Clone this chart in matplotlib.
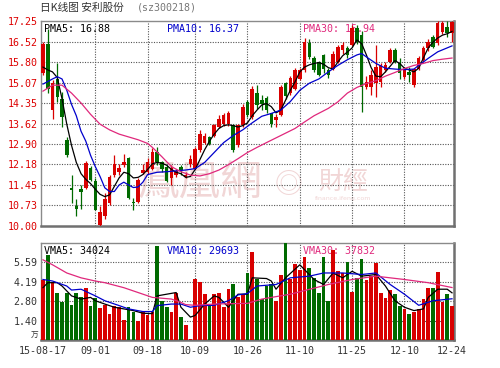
import numpy as np
import pandas as pd
import matplotlib
matplotlib.use("Agg")
import matplotlib.pyplot as plt

RED, GREEN = "#d80000", "#006a00"
C5, C10, C30 = "#000000", "#0000cc", "#e0287c"
MONO = "DejaVu Sans Mono"
CJK = ["Noto Sans CJK SC", "DejaVu Sans"]
CJK_TC = ["Noto Sans CJK TC", "DejaVu Sans"]

# trading days 2015-08-17 .. 2015-12-24 (exchange holidays removed)
holidays = ["2015-09-03", "2015-09-04", "2015-10-01", "2015-10-02",
            "2015-10-05", "2015-10-06", "2015-10-07"]
days = pd.bdate_range("2015-08-17", "2015-12-24")
days = days[~days.isin(pd.to_datetime(holidays))]
tick_days = ["2015-08-17", "2015-09-01", "2015-09-18", "2015-10-09", "2015-10-26",
             "2015-11-10", "2015-11-25", "2015-12-10", "2015-12-24"]
tick_labels = ["15-08-17", "09-01", "09-18", "10-09", "10-26",
               "11-10", "11-25", "12-10", "12-24"]

opens = [15.40, 16.45, 14.10, 15.20, 14.50, 13.05, 11.36, 10.70, 11.30, 11.34,
         12.05, 11.60, 10.02, 10.35, 10.80, 11.80, 11.92, 12.15, 12.41, 10.85,
         10.85, 11.88, 11.90, 12.00, 12.60, 12.25, 12.10, 11.70, 11.82, 12.10,
         11.75, 12.18, 12.03, 12.68, 12.95, 13.15, 13.20, 13.51, 13.62, 13.60,
         13.57, 12.86, 13.57, 14.40, 13.86, 14.69, 14.45, 14.51, 13.98, 13.75,
         13.92, 15.04, 14.70, 14.86, 15.20, 15.51, 16.46, 15.93, 15.80, 16.04,
         15.51, 15.57, 15.81, 16.22, 16.28, 16.40, 16.99, 16.75, 14.92, 14.92,
         15.04, 15.10, 15.51, 15.81, 16.22, 15.75, 15.27, 15.45, 14.98, 15.57,
         15.87, 16.28, 16.69, 16.46, 16.87, 17.04, 16.81]
highs = [16.50, 16.95, 15.15, 15.75, 14.75, 13.15, 11.80, 10.95, 11.45, 12.30,
         12.12, 11.70, 10.70, 11.15, 11.80, 12.50, 12.20, 12.55, 12.45, 10.99,
         11.70, 12.20, 12.40, 12.75, 12.80, 12.30, 12.15, 12.15, 12.00, 12.15,
         11.90, 12.50, 12.80, 13.39, 13.30, 13.20, 13.62, 13.92, 13.98, 14.05,
         13.60, 13.60, 14.33, 14.45, 14.95, 14.98, 14.63, 14.60, 14.00, 13.95,
         15.00, 15.10, 15.30, 15.60, 15.60, 16.64, 16.60, 16.00, 15.85, 16.10,
         15.60, 16.20, 16.40, 16.50, 16.35, 17.10, 17.10, 16.90, 15.30, 15.51,
         16.40, 15.75, 15.80, 16.30, 16.30, 15.93, 15.60, 15.63, 15.60, 16.00,
         16.35, 16.60, 16.75, 17.25, 17.25, 17.25, 17.25]
lows = [15.35, 14.70, 13.80, 14.40, 13.50, 12.45, 10.80, 10.35, 10.60, 11.30,
        11.60, 10.55, 10.00, 10.25, 10.75, 11.75, 11.80, 12.10, 10.95, 10.55,
        10.80, 11.85, 11.85, 11.97, 12.15, 11.90, 11.55, 11.44, 11.75, 11.80,
        11.70, 12.10, 12.00, 12.60, 12.90, 12.85, 13.15, 13.45, 13.55, 13.55,
        12.60, 12.80, 13.50, 13.85, 13.80, 14.15, 14.10, 14.00, 13.50, 13.50,
        13.90, 14.50, 14.65, 14.80, 15.15, 15.45, 15.90, 15.45, 15.30, 15.40,
        15.25, 15.50, 15.75, 16.10, 15.95, 16.35, 16.45, 14.04, 14.85, 14.63,
        14.57, 14.90, 15.45, 15.75, 15.75, 15.20, 15.20, 15.10, 14.90, 15.50,
        15.80, 16.20, 16.30, 16.40, 16.80, 16.69, 16.50]
closes = [16.45, 14.85, 15.05, 14.55, 13.86, 12.50, 11.28, 10.60, 11.20, 12.23,
          11.63, 10.57, 10.50, 10.95, 11.74, 12.20, 12.05, 12.25, 11.00, 10.80,
          11.63, 11.99, 12.25, 12.62, 12.27, 12.00, 11.60, 12.05, 11.95, 11.98,
          11.82, 12.38, 12.74, 13.27, 13.20, 12.90, 13.57, 13.80, 13.92, 14.00,
          12.68, 13.57, 14.21, 13.92, 14.86, 14.27, 14.33, 14.10, 13.62, 13.86,
          14.92, 14.60, 15.22, 15.51, 15.51, 16.52, 15.99, 15.51, 15.34, 15.57,
          15.34, 16.10, 16.34, 16.40, 16.04, 16.99, 16.52, 14.92, 15.10, 15.34,
          15.63, 15.69, 15.69, 16.22, 15.81, 15.40, 15.51, 15.34, 15.57, 15.93,
          16.28, 16.52, 16.34, 17.17, 17.17, 16.81, 17.22]
# volume in 10k lots
volumes = [4.30, 6.10, 4.15, 3.40, 2.76, 3.40, 2.52, 3.40, 3.12, 3.72,
           2.45, 3.00, 2.28, 2.52, 1.89, 2.43, 2.36, 1.42, 2.41, 2.00,
           1.37, 2.00, 1.77, 2.00, 6.75, 2.78, 2.41, 2.00, 3.37, 1.65,
           1.06, 0.07, 4.36, 4.20, 3.30, 2.48, 3.30, 3.42, 2.36, 3.70,
           4.06, 3.07, 3.30, 4.85, 6.37, 4.43, 2.95, 3.89, 4.00, 2.78,
           4.67, 6.96, 4.36, 5.47, 5.07, 6.01, 5.19, 4.48, 3.42, 6.01,
           2.83, 6.49, 4.95, 4.83, 5.61, 3.49, 4.48, 5.85, 4.29, 4.60,
           5.54, 3.42, 3.02, 3.58, 3.30, 2.48, 2.24, 1.89, 2.00, 2.24,
           2.95, 3.77, 3.73, 4.88, 2.71, 3.35, 2.48]

# moving-average lines (bar index, value)
pma5 = [15.62, 15.52, 15.45, 15.25, 14.50, 13.60, 12.85, 12.25, 11.85, 11.65,
        11.50, 11.30, 11.12, 11.04, 11.10, 11.40, 11.70, 11.90, 11.85, 11.70,
        11.72, 11.82, 12.00, 12.20, 12.25, 12.22, 12.15, 12.00, 11.90, 11.85,
        11.72, 11.75, 12.00, 12.35, 12.70, 13.00, 13.25, 13.45, 13.55, 13.58,
        13.55, 13.50, 13.55, 13.65, 13.90, 14.10, 14.28, 14.33, 14.22, 14.00,
        14.10, 14.45, 14.80, 15.10, 15.45, 15.62, 15.70, 15.75, 15.78, 15.72,
        15.60, 15.55, 15.80, 16.02, 16.15, 16.30, 16.58, 16.45, 16.05, 15.60,
        15.30, 15.28, 15.45, 15.65, 15.85, 15.75, 15.58, 15.52, 15.45, 15.58,
        15.95, 16.30, 16.50, 16.65, 16.75, 16.80, 16.88]
pma10_x = [0, 2, 3, 4, 5, 6, 7, 8, 9, 10, 11, 12, 13, 14, 15, 16, 17, 18, 19, 20,
           21, 22, 24, 26, 28, 30, 32, 34, 36, 38, 40, 42, 44, 46, 48, 50, 52, 54,
           56, 58, 60, 62, 64, 66, 67, 68, 70, 72, 74, 76, 78, 79, 81, 83, 86]
pma10 = [15.02, 15.20, 15.28, 15.20, 14.80, 14.30, 13.90, 13.35, 13.00, 12.50,
         12.10, 11.75, 11.35, 11.22, 11.22, 11.45, 11.55, 11.45, 11.36, 11.38,
         11.55, 11.82, 11.90, 11.92, 11.95, 11.98, 12.03, 12.25, 12.60, 12.95,
         13.20, 13.40, 13.65, 13.88, 13.98, 14.10, 14.40, 14.80, 15.05, 15.20,
         15.45, 15.68, 15.88, 16.05, 16.10, 15.98, 15.75, 15.58, 15.55, 15.53,
         15.55, 15.68, 15.93, 16.16, 16.37]
pma30_x = [0, 2, 4, 6, 8, 10, 12, 14, 16, 18, 20, 22, 23, 25, 27, 29, 31, 33, 35,
           37, 39, 41, 43, 45, 47, 50, 53, 55, 57, 60, 62, 64, 66, 68, 70, 72, 74,
           76, 78, 80, 82, 84, 86]
pma30 = [14.77, 14.98, 14.98, 14.70, 14.35, 13.95, 13.60, 13.40, 13.25, 13.15,
         13.05, 12.92, 12.78, 12.45, 12.10, 11.92, 11.80, 11.77, 11.85, 11.98,
         12.17, 12.38, 12.60, 12.78, 12.95, 13.20, 13.45, 13.68, 13.90, 14.16,
         14.39, 14.70, 14.90, 15.04, 15.14, 15.30, 15.43, 15.57, 15.68, 15.75,
         15.85, 15.90, 15.94]

vma5_x = [0, 1, 3, 4, 6, 8, 10, 11, 13, 15, 17, 19, 21, 23, 24, 26, 28, 29, 31, 32,
          34, 36, 37, 39, 41, 43, 44, 47, 48, 49, 51, 54, 57, 59, 61, 63, 65, 67,
          70, 72, 74, 76, 78, 80, 81, 83, 85, 86]
vma5 = [3.77, 4.13, 4.13, 3.89, 3.18, 2.95, 3.07, 2.83, 2.59, 2.36,
        2.24, 2.12, 1.93, 1.90, 3.18, 3.30, 3.42, 2.36, 1.65, 1.77,
        2.59, 3.18, 3.07, 2.36, 3.30, 3.30, 4.48, 4.43, 4.25, 3.66,
        4.48, 5.42, 4.36, 4.00, 4.83, 4.48, 4.95, 4.60, 4.72, 3.89,
        2.83, 2.36, 2.12, 2.24, 3.07, 3.66, 3.66, 3.40]
vma10_x = [0, 2, 5, 6, 8, 11, 13, 16, 18, 21, 23, 24, 27, 29, 31, 33, 36, 39, 41,
           43, 45, 49, 52, 56, 59, 63, 67, 70, 73, 76, 79, 82, 86]
vma10 = [4.36, 4.25, 3.89, 3.60, 3.66, 3.18, 2.83, 2.48, 2.24, 2.05, 2.05, 2.48,
         2.59, 2.59, 2.36, 2.48, 2.50, 2.83, 3.25, 3.35, 3.89, 4.00, 4.48, 4.60,
         4.83, 4.83, 4.72, 4.83, 4.00, 3.30, 2.50, 2.83, 2.97]
vma30_x = [0, 2, 5, 8, 11, 13, 17, 20, 23, 27, 29, 30, 32, 36, 40, 43, 46, 52, 60,
           65, 70, 76, 81, 86]
vma30 = [5.78, 5.42, 4.83, 4.48, 4.25, 4.13, 3.77, 3.42, 3.07, 2.95, 2.71, 2.55,
         2.50, 2.59, 2.62, 2.64, 2.95, 3.30, 4.00, 4.36, 4.60, 4.36, 4.13, 3.78]
vma_last = [34024, 29693, 37832]

price_ticks = [10.00, 10.73, 11.45, 12.18, 12.90, 13.62, 14.35, 15.07, 15.80, 16.52, 17.25]
vol_ticks = [1.40, 2.80, 4.19, 5.59]
vol_top = 6.99

o, h, l, c = map(np.array, (opens, highs, lows, closes))
x = np.arange(len(c))
tick_idx = [days.get_loc(pd.Timestamp(d)) for d in tick_days]
cols = np.where(c >= o, RED, GREEN)

fig = plt.figure(figsize=(5, 3.68), dpi=100)
fig.patch.set_facecolor("white")
ax = fig.add_axes([41/500, 1-226/368, 413/500, 205/368])
axv = fig.add_axes([41/500, 1-340/368, 413/500, 97/368])
GRID = dict(color="#555555", lw=0.8, ls=(0, (1, 1.3)), zorder=1)

for a in (ax, axv):
    a.set_xlim(-0.42, len(c) - 0.58)
    for t in tick_idx[1:-1]:
        a.axvline(t, **GRID)
    for s in a.spines.values():
        s.set_color("#8a8a8a"); s.set_linewidth(1.0)
    a.spines["right"].set_linewidth(1.8); a.spines["bottom"].set_linewidth(1.8)
    a.spines["right"].set_color("#707070"); a.spines["bottom"].set_color("#707070")
    a.tick_params(length=0)

# watermark
WM = "#f1d6d6"
ax.text(0.385, 0.205, "鳳凰網", transform=ax.transAxes, ha="center", va="center",
        fontsize=30, color=WM, family=CJK_TC, zorder=0)
ax.text(0.60, 0.20, "◎", transform=ax.transAxes, ha="center", va="center",
        fontsize=20, color=WM, family=CJK_TC, zorder=0)
ax.text(0.731, 0.215, "財經", transform=ax.transAxes, ha="center", va="center",
        fontsize=18, color=WM, family=CJK_TC, zorder=0)
ax.text(0.731, 0.132, "finance.ifeng.com", transform=ax.transAxes, ha="center",
        va="center", fontsize=4.5, color=WM, zorder=0)

# price panel
for y in price_ticks[1:-1]:
    ax.axhline(y, **GRID)
ax.vlines(x, l, h, colors=cols, lw=0.9, zorder=3)
ax.bar(x, np.maximum(np.abs(c - o), 0.03), bottom=np.minimum(o, c), width=0.74,
       color=cols, lw=0, zorder=4)
ax.plot(x, pma5, color=C5, lw=0.9, zorder=5)
ax.plot(pma10_x, pma10, color=C10, lw=0.9, zorder=5)
ax.plot(pma30_x, pma30, color=C30, lw=0.9, zorder=5)
ax.set_ylim(price_ticks[0], price_ticks[-1])
ax.set_yticks(price_ticks)
ax.set_yticklabels([f"{v:.2f}" for v in price_ticks], family=MONO, fontsize=7.2, color="#dd0000")
ax.tick_params(axis="y", pad=2.5)
ax.set_xticks([])
for xp, txt, col in [(0.008, f"PMA5: {pma5[-1]:.2f}", C5), (0.305, f"PMA10: {pma10[-1]:.2f}", C10),
                     (0.634, f"PMA30: {pma30[-1]:.2f}", C30)]:
    ax.text(xp, 0.961, txt, transform=ax.transAxes, ha="left", va="center",
            family=MONO, fontsize=7.2, color=col, zorder=2)

# volume panel
for y in vol_ticks:
    axv.axhline(y, **GRID)
axv.bar(x, volumes, width=0.78, color=cols, lw=0, zorder=3)
axv.plot(vma5_x, vma5, color=C5, lw=0.9, zorder=5)
axv.plot(vma10_x, vma10, color=C10, lw=0.9, zorder=5)
axv.plot(vma30_x, vma30, color=C30, lw=0.9, zorder=5)
axv.set_ylim(0, vol_top)
axv.set_yticks(vol_ticks)
axv.set_yticklabels([f"{v:.2f}" for v in vol_ticks], family=MONO, fontsize=7.2, color="#333333")
axv.tick_params(axis="y", pad=2.5)
axv.set_xticks(tick_idx)
axv.set_xticklabels(tick_labels, family=MONO, fontsize=7.2, color="#333333")
axv.tick_params(axis="x", pad=4)
axv.text(-0.015, 0.045, "万", transform=axv.transAxes, ha="center", va="center",
         family=CJK, fontsize=5.5, color="#333333")
for xp, name, val, col in [(0.008, "VMA5", vma_last[0], C5), (0.305, "VMA10", vma_last[1], C10),
                           (0.634, "VMA30", vma_last[2], C30)]:
    axv.text(xp, 0.915, f"{name}: {val}", transform=axv.transAxes, ha="left", va="center",
             family=MONO, fontsize=7.2, color=col, zorder=2)

# title
fig.text(40/500, 1-8/368, "日K线图 安利股份", ha="left", va="center",
         family=CJK, fontsize=7.7, color="#333333")
fig.text(137/500, 1-8/368, "(sz300218)", ha="left", va="center",
         family=MONO, fontsize=7.2, color="#777777")

fig.savefig("out.png", dpi=100)
